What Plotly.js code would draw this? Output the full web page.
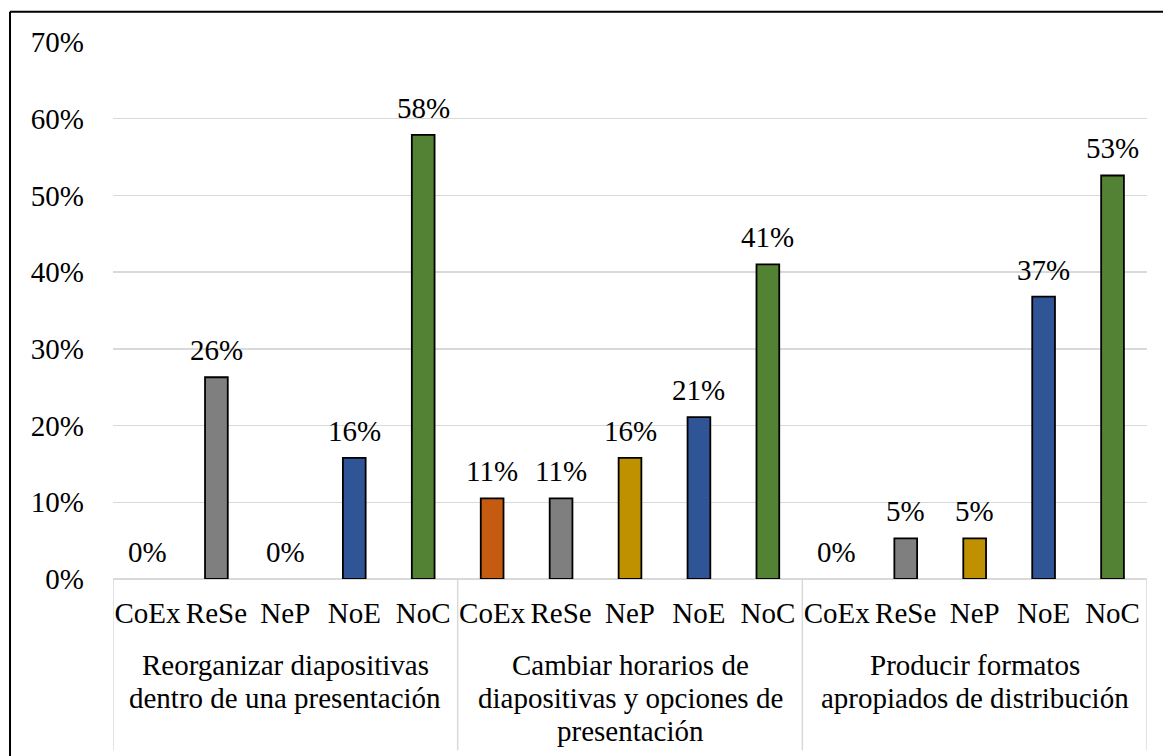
<!DOCTYPE html>
<html>
<head>
<meta charset="utf-8">
<script src="https://cdn.plot.ly/plotly-3.0.1.min.js"></script>
<style>html,body{margin:0;padding:0;background:#fff;}#chart{width:1163px;height:756px;}</style>
</head>
<body>
<div id="chart"></div>
<script>
// Data
var subCategories = ["CoEx", "ReSe", "NeP", "NoE", "NoC"];
var groupLines = [
  ["Reorganizar diapositivas", "dentro de una presentación"],
  ["Cambiar horarios de", "diapositivas y opciones de", "presentación"],
  ["Producir formatos", "apropiados de distribución"]
];
var reorganizar = [0, 26.3, 0, 15.8, 57.9];
var cambiar = [10.5, 10.5, 15.8, 21.1, 41.0];
var producir = [0, 5.3, 5.3, 36.8, 52.6];
var yTicks = [0, 10, 20, 30, 40, 50, 60, 70];

var seriesColors = ["#C55A11", "#7F7F7F", "#BF9000", "#2F5597", "#548235"];
var FONT = "Liberation Serif";
var FS = 29;

var groups = [reorganizar, cambiar, producir];
var xs = [], ys = [], cols = [], lw = [], ticktext = [], tickvals = [];
groups.forEach(function (vals, g) {
  vals.forEach(function (v, i) {
    var x = g * subCategories.length + i;
    xs.push(x); ys.push(v); cols.push(seriesColors[i]);
    lw.push(v > 0 ? 1.8 : 0);
    tickvals.push(x); ticktext.push(subCategories[i]);
  });
});

var annotations = [];
xs.forEach(function (x, k) {
  annotations.push({
    x: x, y: ys[k], xref: "x", yref: "y", yanchor: "bottom",
    text: Math.round(ys[k]) + "%", showarrow: false, yshift: 9,
    font: {family: FONT, size: FS, color: "#000"}
  });
});
var n = subCategories.length;
groupLines.forEach(function (lines, g) {
  lines.forEach(function (line, j) {
    annotations.push({
      x: g * n + (n - 1) / 2, xref: "x", y: -0.127, yref: "paper", yanchor: "top",
      yshift: -33 * j, text: line, showarrow: false,
      font: {family: FONT, size: FS, color: "#000"}
    });
  });
});

var shapes = [];
for (var g = 0; g <= groups.length; g++) {
  shapes.push({type: "line", xref: "x", yref: "paper", x0: g * n - 0.5, x1: g * n - 0.5,
    y0: 0, y1: -0.319, line: {color: "#D9D9D9", width: 1.5}});
}
// outer frame (left and top)
shapes.push({type: "line", xref: "paper", yref: "paper", x0: -0.0996, x1: -0.0996, y0: 1.0565, y1: -0.33,
  line: {color: "#000", width: 2}});
shapes.push({type: "line", xref: "paper", yref: "paper", x0: -0.0996, x1: 1.02, y0: 1.0565, y1: 1.0565,
  line: {color: "#000", width: 2}});

var trace = {
  type: "bar", x: xs, y: ys, width: 0.33,
  marker: {color: cols, line: {color: "#000", width: lw}},
  hoverinfo: "none"
};

var layout = {
  width: 1163, height: 756,
  margin: {l: 113, r: 16, t: 42, b: 177},
  paper_bgcolor: "#fff", plot_bgcolor: "#fff",
  showlegend: false,
  bargap: 0,
  xaxis: {
    range: [-0.5, 14.5], tickvals: tickvals, ticktext: ticktext, ticks: "",
    showgrid: false, zeroline: false, showline: false,
    tickfont: {family: FONT, size: FS, color: "#000"}, ticklabelstandoff: 14,
    fixedrange: true
  },
  yaxis: {
    range: [0, 70], tickvals: yTicks, ticktext: yTicks.map(function (v) { return v + "%"; }),
    showgrid: true, gridcolor: "#D9D9D9", gridwidth: 1.5,
    zeroline: true, zerolinecolor: "#D9D9D9", zerolinewidth: 1.5,
    showline: false, ticks: "",
    tickfont: {family: FONT, size: FS, color: "#000"}, ticklabelstandoff: 28,
    fixedrange: true
  },
  annotations: annotations,
  shapes: shapes
};

Plotly.newPlot("chart", [trace], layout, {displayModeBar: false, staticPlot: true});
</script>
</body>
</html>
